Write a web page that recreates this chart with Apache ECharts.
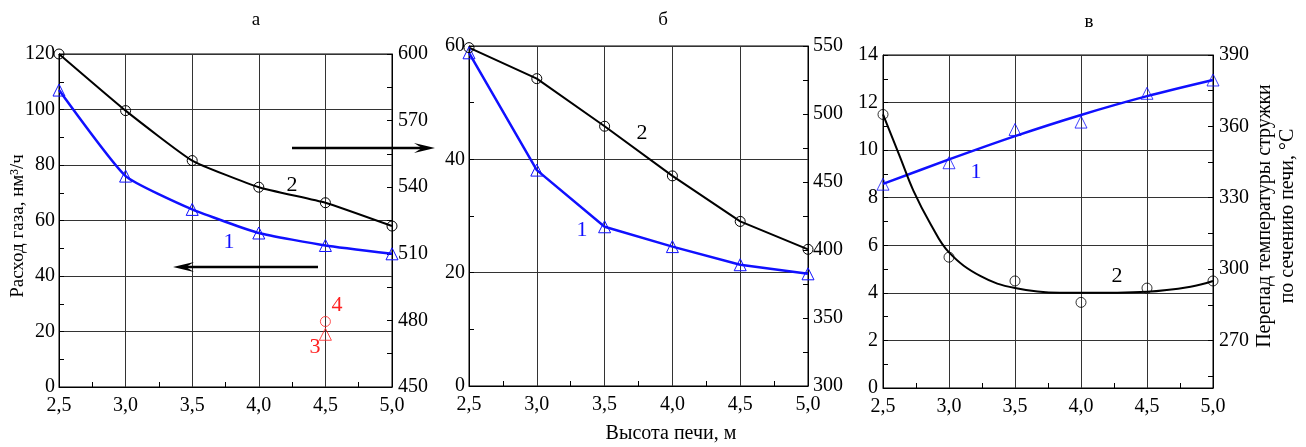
<!DOCTYPE html>
<html>
<head>
<meta charset="UTF-8">
<title>Высота печи</title>
<style type="text/css">
  html, body { margin: 0; padding: 0; width: 100%; height: 100%; background: #fff; }
  #main { width: 1306px; height: 447px; }
</style>
</head>
<body>
<div id="main"></div>
<script src="https://cdn.jsdelivr.net/npm/echarts@6/dist/echarts.min.js"></script>
<script>
// высота печи, м
var heights = [2.5, 3.0, 3.5, 4.0, 4.5, 5.0];

// а
var gasA = [107, 76, 64, 55.5, 51, 48];
var tempA = [600, 574.5, 552, 540, 533, 522.5];
var point3 = [[4.5, 19]];
var point4 = [[4.5, 479.5]];

// б
var gasB = [58.8, 38.1, 28.1, 24.6, 21.4, 19.8];
var tempB = [548.8, 526, 491, 454.5, 421, 400.5];

// в
var pointsC1 = [8.57, 9.47, 10.87, 11.18, 12.39, 12.95];
var fitC1 = [8.58, 9.61, 10.59, 11.48, 12.27, 12.95];
var pointsC2 = [365, 305, 295, 286, 292, 295];
var fitC2X = [2.5, 2.63, 2.73, 2.86, 3.0, 3.24, 3.5, 3.84, 4.0, 4.5, 4.83, 5.0];
var fitC2Y = [365, 347, 333, 319, 307, 297, 292, 290, 290, 290.5, 292.6, 295];

var FONT = 'Liberation Serif';
var BLUE = '#1010ff';
var RED = '#ff2020';

function pairs(xs, ys) {
  return xs.map(function (x, i) { return [x, ys[i]]; });
}

function xAxis(grid) {
  return {
    type: 'value', gridIndex: grid, min: 2.5, max: 5.0, interval: 0.5,
    axisLine: { lineStyle: { color: '#000' } },
    axisTick: { show: false, inside: true },
    minorTick: { show: true, splitNumber: 2, length: 5, lineStyle: { color: '#000' } },
    axisLabel: {
      color: '#000', fontFamily: FONT, fontSize: 20, margin: 9,
      formatter: function (v) { return v.toFixed(1).replace('.', ','); }
    },
    splitLine: { show: true, lineStyle: { color: '#333', width: 1 } }
  };
}

function yAxis(grid, pos, min, max, interval, grid_lines, margin) {
  return {
    type: 'value', gridIndex: grid, position: pos, min: min, max: max, interval: interval,
    axisLine: { show: true, lineStyle: { color: '#000' } },
    axisTick: { show: true, inside: true, length: 5, lineStyle: { color: '#000' } },
    minorTick: { show: true, splitNumber: 2, length: 5, lineStyle: { color: '#000' } },
    axisLabel: { color: '#000', fontFamily: FONT, fontSize: 20, margin: margin },
    splitLine: { show: grid_lines, lineStyle: { color: '#333', width: 1 } }
  };
}

var rightC = yAxis(2, 'right', 250, 390, 10, false, 6);
rightC.axisLabel.customValues = [270, 300, 330, 360, 390];
rightC.axisTick.customValues = [255, 270, 285, 300, 315, 330, 345, 360, 375, 390];
rightC.minorTick = { show: false };
delete rightC.interval;

function lineSeries(x, y, yIdx, vals, color, sym, smooth, width) {
  return {
    type: 'line', xAxisIndex: x, yAxisIndex: yIdx, data: pairs(heights, vals),
    smooth: smooth, symbol: sym, symbolSize: sym === 'triangle' ? 12 : 10,
    showAllSymbol: true,
    lineStyle: { color: color, width: width },
    itemStyle: { color: 'none', borderColor: color, borderWidth: 1 },
    z: 3
  };
}

function arrow(x1, x2, y) {
  var d = x2 > x1 ? 1 : -1;
  return [
    { type: 'line', shape: { x1: x1, y1: y, x2: x2 - d * 10, y2: y },
      style: { stroke: '#000', lineWidth: 2.6 }, z: 10 },
    { type: 'polygon',
      shape: { points: [[x2, y], [x2 - d * 21, y - 5], [x2 - d * 13, y], [x2 - d * 21, y + 5]] },
      style: { fill: '#000' }, z: 10 }
  ];
}

function txt(x, y, s, color, size, rot) {
  return {
    type: 'text', x: x, y: y, rotation: rot || 0, z: 10,
    style: { text: s, fill: color, fontFamily: FONT, fontSize: size,
             align: 'center', verticalAlign: 'middle', lineHeight: size + 3 }
  };
}

var chart = echarts.init(document.getElementById('main'));

chart.setOption({
  animation: false,
  backgroundColor: '#fff',
  grid: [
    { left: 59, top: 54, width: 333, height: 333, show: true, borderColor: '#000', borderWidth: 1 },
    { left: 469, top: 46, width: 339, height: 340, show: true, borderColor: '#000', borderWidth: 1 },
    { left: 883, top: 55, width: 330, height: 333, show: true, borderColor: '#000', borderWidth: 1 }
  ],
  xAxis: [xAxis(0), xAxis(1), xAxis(2)],
  yAxis: [
    yAxis(0, 'left', 0, 120, 20, true, 4),
    yAxis(0, 'right', 450, 600, 30, false, 6),
    yAxis(1, 'left', 0, 60, 20, true, 4),
    yAxis(1, 'right', 300, 550, 50, false, 5),
    yAxis(2, 'left', 0, 14, 2, true, 5),
    rightC
  ],
  series: [
    lineSeries(0, 0, 0, gasA, BLUE, 'triangle', 0.15, 2.5),
    lineSeries(0, 0, 1, tempA, '#000', 'circle', 0.15, 2),
    { type: 'scatter', xAxisIndex: 0, yAxisIndex: 0, data: point3, symbol: 'triangle', symbolSize: 12,
      itemStyle: { color: 'none', borderColor: RED, borderWidth: 1 } },
    { type: 'scatter', xAxisIndex: 0, yAxisIndex: 1, data: point4, symbol: 'circle', symbolSize: 10,
      itemStyle: { color: 'none', borderColor: RED, borderWidth: 1 } },

    lineSeries(1, 1, 2, gasB, BLUE, 'triangle', false, 2.5),
    lineSeries(1, 1, 3, tempB, '#000', 'circle', false, 2),

    { type: 'line', xAxisIndex: 2, yAxisIndex: 4, data: pairs(heights, fitC1), smooth: 0.3,
      symbol: 'none', lineStyle: { color: BLUE, width: 2.5 } },
    { type: 'scatter', xAxisIndex: 2, yAxisIndex: 4, data: pairs(heights, pointsC1),
      symbol: 'triangle', symbolSize: 12, itemStyle: { color: 'none', borderColor: BLUE, borderWidth: 1 } },
    { type: 'line', xAxisIndex: 2, yAxisIndex: 5, data: pairs(fitC2X, fitC2Y), smooth: 0.4,
      symbol: 'none', lineStyle: { color: '#000', width: 2 } },
    { type: 'scatter', xAxisIndex: 2, yAxisIndex: 5, data: pairs(heights, pointsC2),
      symbol: 'circle', symbolSize: 10, itemStyle: { color: 'none', borderColor: '#000', borderWidth: 1 } }
  ],
  graphic: [
    txt(256, 20, 'а', '#000', 19),
    txt(663, 20, 'б', '#000', 19),
    txt(1089, 22, 'в', '#000', 19),
    txt(671, 434, 'Высота печи, м', '#000', 20),
    txt(18, 226, 'Расход газа, нм³/ч', '#000', 19, Math.PI / 2),
    txt(1276, 216, 'Перепад температуры стружки\nпо сечению печи, °С', '#000', 20, Math.PI / 2),
    txt(229, 242, '1', BLUE, 22),
    txt(292, 185, '2', '#000', 22),
    txt(315, 347, '3', RED, 22),
    txt(337, 305, '4', RED, 22),
    txt(582, 230, '1', BLUE, 22),
    txt(642, 133, '2', '#000', 22),
    txt(976, 172, '1', BLUE, 22),
    txt(1117, 276, '2', '#000', 22)
  ].concat(arrow(292, 435, 148), arrow(318, 173, 267))
});
</script>
</body>
</html>
